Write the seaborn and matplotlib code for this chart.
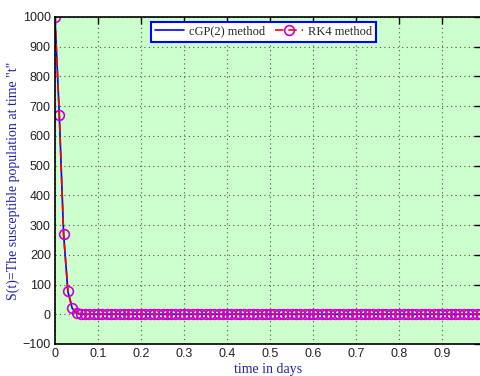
import numpy as np
import pandas as pd
import seaborn as sns
import matplotlib
matplotlib.use("Agg")
import matplotlib.pyplot as plt

# time points (days)
t = [round(i * 0.01, 2) for i in range(100)]
# RK4 values
s_rk4 = [1000, 672, 270, 78, 22, 5, 1,
         0, 0, 0, 0, 0, 0, 0, 0, 0, 0,
         0, 0, 0, 0, 0, 0, 0, 0, 0, 0,
         0, 0, 0, 0, 0, 0, 0, 0, 0, 0,
         0, 0, 0, 0, 0, 0, 0, 0, 0, 0,
         0, 0, 0, 0, 0, 0, 0, 0, 0, 0,
         0, 0, 0, 0, 0, 0, 0, 0, 0, 0,
         0, 0, 0, 0, 0, 0, 0, 0, 0, 0,
         0, 0, 0, 0, 0, 0, 0, 0, 0, 0,
         0, 0, 0, 0, 0, 0, 0, 0, 0, 0,
         0, 0, 0]
# cGP(2) values
s_cgp = [1000, 670, 268, 76, 20, 4, 1,
         0, 0, 0, 0, 0, 0, 0, 0, 0, 0,
         0, 0, 0, 0, 0, 0, 0, 0, 0, 0,
         0, 0, 0, 0, 0, 0, 0, 0, 0, 0,
         0, 0, 0, 0, 0, 0, 0, 0, 0, 0,
         0, 0, 0, 0, 0, 0, 0, 0, 0, 0,
         0, 0, 0, 0, 0, 0, 0, 0, 0, 0,
         0, 0, 0, 0, 0, 0, 0, 0, 0, 0,
         0, 0, 0, 0, 0, 0, 0, 0, 0, 0,
         0, 0, 0, 0, 0, 0, 0, 0, 0, 0,
         0, 0, 0]
x_ticks = [0, 0.1, 0.2, 0.3, 0.4, 0.5, 0.6, 0.7, 0.8, 0.9]
y_ticks = list(range(-100, 1001, 100))

df = pd.DataFrame({"t": t, "rk4": s_rk4, "cgp": s_cgp})

sns.set_style("white")
plt.rcParams['font.family'] = ['Liberation Sans', 'DejaVu Sans']

fig = plt.figure(figsize=(4.81, 3.76), dpi=100)
ax = fig.add_axes([55 / 481, 32 / 376, 426 / 481, 327 / 376])
ax.set_facecolor("#ccffcc")

sns.lineplot(data=df, x="t", y="cgp", ax=ax, color="#0000ff", lw=1.2,
             label="cGP(2) method")
sns.lineplot(data=df, x="t", y="rk4", ax=ax, color="#ff0000", lw=1.2,
             linestyle=(0, (5, 3)), marker="o", markersize=7,
             markerfacecolor="none", markeredgecolor="#cc00cc",
             markeredgewidth=1.2, label="RK4 method")

ax.set_xlim(0, 0.99)
ax.set_ylim(-100, 1000)
ax.set_xticks(x_ticks)
ax.set_xticklabels([("%g" % v) for v in x_ticks])
ax.set_yticks(y_ticks)
ax.tick_params(direction="in", length=5, width=1, top=True, right=True,
               labelsize=9, labelcolor="#222222", colors="black", pad=3)
ax.grid(True, linestyle=(0, (1, 3)), color="#555555", lw=0.8)
for s in ax.spines.values():
    s.set_color("black")
    s.set_linewidth(1.2)

ax.set_xlabel("time in days", family="Liberation Serif", fontsize=10,
              color="#2222aa", labelpad=2)
ax.set_ylabel('S(t)=The susceptible population at time "t"',
              family="Liberation Serif", fontsize=10, color="#2222aa",
              labelpad=2)

leg = ax.legend(loc="upper center", bbox_to_anchor=(0.49, 1.0), ncol=2,
                frameon=True, fancybox=False,
                prop={"family": "Liberation Serif", "size": 9},
                handlelength=2.3, columnspacing=0.8, borderpad=0.3,
                handletextpad=0.4, borderaxespad=0.4)
leg.get_frame().set_edgecolor("#0000ff")
leg.get_frame().set_linewidth(1.5)
leg.get_frame().set_facecolor("white")
leg.get_frame().set_alpha(1)

fig.savefig("out.png", dpi=100)
